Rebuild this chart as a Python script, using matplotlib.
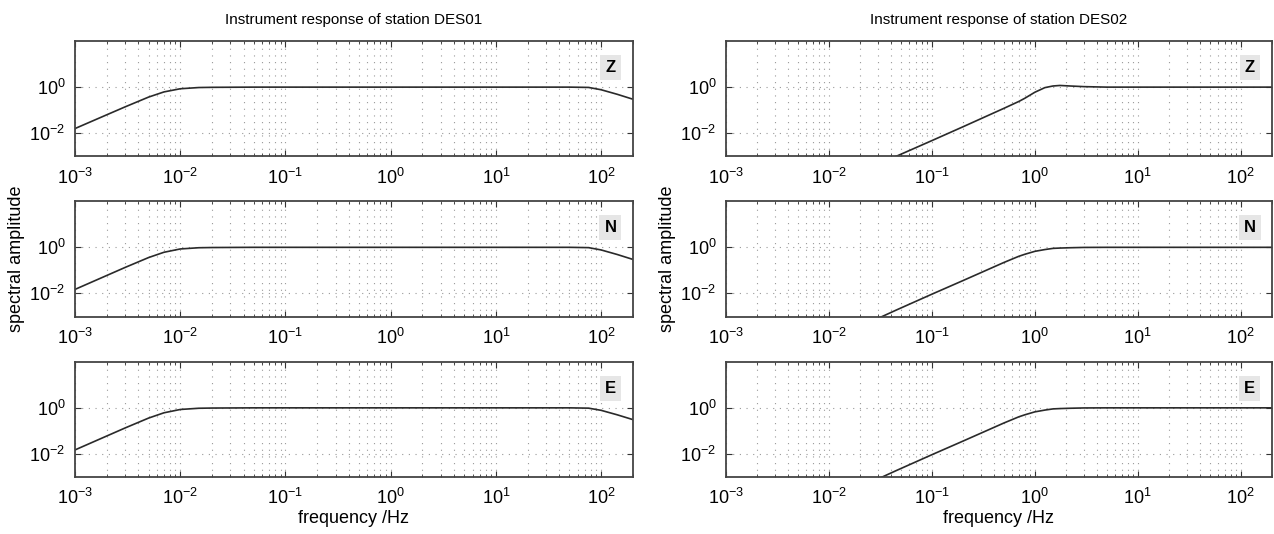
import numpy as np
import matplotlib
matplotlib.use("Agg")
import matplotlib.pyplot as plt
from matplotlib.ticker import LogLocator, NullFormatter

plt.rcParams['font.family'] = ['Liberation Sans', 'DejaVu Sans']
plt.rcParams['mathtext.fontset'] = 'custom'
plt.rcParams['mathtext.rm'] = 'Liberation Sans'

# readings (frequency in Hz, amplitude)
des01_f = [1e-3, 2e-3, 3e-3, 5e-3, 7e-3, 1e-2, 1.5e-2, 2e-2, 5e-2, 1e-1, 1, 10, 50, 76, 100, 142, 200]
des01_z = [0.016, 0.063, 0.14, 0.37, 0.62, 0.85, 0.96, 0.98, 1.0, 1.0, 1.0, 1.0, 1.0, 0.97, 0.77, 0.49, 0.30]
des01_n = [0.015, 0.06, 0.135, 0.36, 0.61, 0.85, 0.96, 0.98, 1.0, 1.0, 1.0, 1.0, 1.0, 0.97, 0.77, 0.49, 0.30]
des01_e = [0.015, 0.06, 0.135, 0.36, 0.61, 0.85, 0.96, 0.98, 1.0, 1.0, 1.0, 1.0, 1.0, 0.97, 0.78, 0.50, 0.31]

des02_f = [0.03, 0.045, 0.1, 0.2, 0.5, 0.7, 0.8, 1.0, 1.25, 1.5, 1.75, 2.2, 3, 5, 10, 200]
des02_z = [4.4e-4, 1e-3, 4.8e-3, 0.019, 0.12, 0.24, 0.33, 0.6, 0.95, 1.12, 1.18, 1.12, 1.05, 1.0, 1.0, 1.0]
des02_n = [8.3e-4, 1.9e-3, 9.3e-3, 0.036, 0.22, 0.41, 0.5, 0.67, 0.8, 0.9, 0.93, 0.96, 0.99, 1.0, 1.0, 1.0]
des02_e = [8.3e-4, 1.9e-3, 9.3e-3, 0.036, 0.22, 0.41, 0.5, 0.67, 0.8, 0.9, 0.93, 0.96, 0.99, 1.0, 1.0, 1.0]

components = ["Z", "N", "E"]
stations = ["DES01", "DES02"]
x_ticks = [1e-3, 1e-2, 1e-1, 1e0, 1e1, 1e2]
y_ticks = [1e-2, 1e0]

fig = plt.figure(figsize=(12.74, 5.34), dpi=100)

lefts = [0.0589, 0.5699]
widths = [0.4378, 0.4283]
bottoms = [0.7073, 0.4073, 0.1067]
height = 0.2159

data = [[des01_z, des01_n, des01_e], [des02_z, des02_n, des02_e]]
freqs = [des01_f, des02_f]

for col in range(2):
    for row in range(3):
        ax = fig.add_axes([lefts[col], bottoms[row], widths[col], height])
        ax.loglog(freqs[col], data[col][row], color='#2a2a2a', lw=1.2)
        ax.set_xlim(1e-3, 200)
        ax.set_ylim(1e-3, 1e2)
        ax.set_xticks(x_ticks)
        ax.xaxis.set_minor_locator(LogLocator(base=10, subs=np.arange(2, 10), numticks=20))
        ax.xaxis.set_minor_formatter(NullFormatter())
        ax.set_yticks(y_ticks)
        ax.yaxis.set_minor_locator(plt.NullLocator())
        ax.tick_params(which='both', direction='in', top=True, right=True,
                       labelsize=13, color='#333333')
        ax.tick_params(which='major', length=4)
        ax.tick_params(which='minor', length=2)
        ax.tick_params(axis='x', pad=8)
        ax.tick_params(axis='y', pad=7)
        ax.grid(True, which='major', axis='both', color='#999999',
                linestyle=(0, (1, 5)), lw=0.8)
        ax.grid(True, which='minor', axis='x', color='#999999',
                linestyle=(0, (1, 5)), lw=0.8)
        for s in ax.spines.values():
            s.set_color('#444444')
            s.set_linewidth(1.3)
        ax.text(0.96, 0.77, components[row], transform=ax.transAxes,
                ha='center', va='center', fontsize=12, fontweight='bold',
                bbox=dict(boxstyle='square,pad=0.3', facecolor='#e6e6e6',
                          edgecolor='none'))
        if row == 0:
            ax.set_title("Instrument response of station " + stations[col],
                         fontsize=11, pad=12)
        if row == 2:
            ax.set_xlabel("frequency /Hz", fontsize=13, labelpad=1)
        if row == 1:
            ax.set_ylabel("spectral amplitude", fontsize=13, labelpad=3)

fig.savefig("out.png", dpi=100)
